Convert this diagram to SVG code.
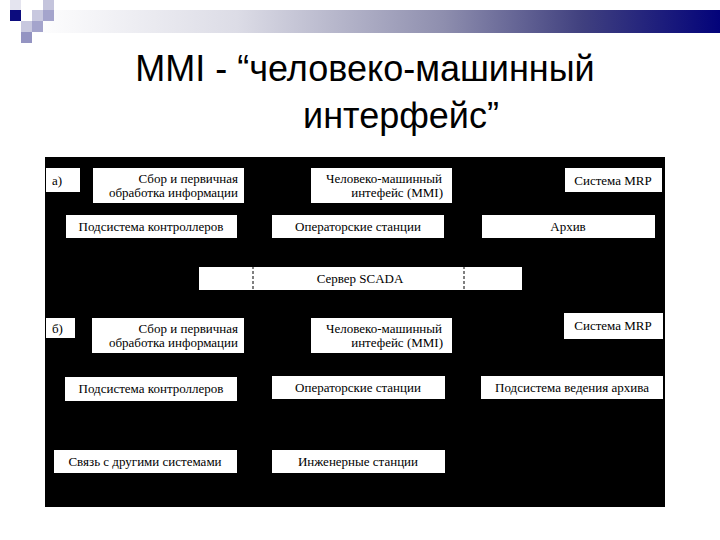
<svg xmlns="http://www.w3.org/2000/svg" width="720" height="540" viewBox="0 0 720 540">
<defs>
<linearGradient id="bar" x1="0" y1="0" x2="1" y2="0">
<stop offset="0" stop-color="#ffffff"/>
<stop offset="0.3" stop-color="#dcdce6"/>
<stop offset="0.6" stop-color="#8e8eae"/>
<stop offset="0.8" stop-color="#40407f"/>
<stop offset="1" stop-color="#03037a"/>
</linearGradient>
<style>
.bx{fill:#ffffff}
.t{font-family:'Liberation Serif','DejaVu Serif',serif;font-size:13px;fill:#000}
.title{font-family:'Liberation Sans',Arial,sans-serif;font-size:36px;fill:#000;text-anchor:middle}
.dash{stroke:#000;stroke-width:1;stroke-dasharray:3,2;fill:none}
.tick{stroke:#000;stroke-width:1;fill:none}
</style>
</defs>
<rect width="720" height="540" fill="#ffffff"/>
<g id="header">
<rect x="30" y="10" width="690" height="23" fill="url(#bar)"/>
<rect x="10" y="0" width="11" height="10" fill="#e4e4ef"/>
<rect x="43" y="0" width="11" height="10" fill="#c4c4dc"/>
<rect x="10" y="10" width="11" height="11" fill="#0c0c7e"/>
<rect x="32" y="10" width="11" height="11" fill="#c8c8df"/>
<rect x="43" y="10" width="11" height="11" fill="#a4a4cc"/>
<rect x="21" y="21" width="11" height="11" fill="#c8c8df"/>
<rect x="32" y="21" width="11" height="11" fill="#a4a4cc"/>
<rect x="21" y="32" width="11" height="11" fill="#9494c2"/>
</g>
<g id="title">
<text class="title" x="365" y="81">MMI - “человеко-машинный</text>
<text class="title" x="401" y="128">интерфейс”</text>
</g>
<rect id="panel" x="45" y="157" width="620" height="350" fill="#000"/>
<g id="connectors">
<line class="dash" x1="253" y1="265" x2="253" y2="292"/>
<line class="dash" x1="464" y1="265" x2="464" y2="292"/>
<line class="tick" x1="266" y1="388" x2="272" y2="388"/>
<line class="tick" x1="266" y1="462" x2="272" y2="462"/>
<line class="tick" x1="476" y1="388" x2="481" y2="388"/>
</g>
<g id="label-a"><rect class="bx" x="46" y="168" width="34" height="24"/><text class="t" x="52" y="185">а)</text></g>
<g id="a-sbor"><rect class="bx" x="93" y="168" width="151" height="35"/><text class="t" x="238" y="183" text-anchor="end">Сбор и первичная</text><text class="t" x="238" y="197" text-anchor="end">обработка информации</text></g>
<g id="a-mmi"><rect class="bx" x="311" y="168" width="141" height="35"/><text class="t" x="442" y="183" text-anchor="end">Человеко-машинный</text><text class="t" x="443" y="197" text-anchor="end">интефейс (MMI)</text></g>
<g id="a-mrp"><rect class="bx" x="565" y="168" width="97" height="24"/><text class="t" x="613" y="185" text-anchor="middle">Система MRP</text></g>
<g id="a-ctrl"><rect class="bx" x="66" y="215" width="171" height="23"/><text class="t" x="151" y="231" text-anchor="middle">Подсистема контроллеров</text></g>
<g id="a-oper"><rect class="bx" x="272" y="215" width="172" height="23"/><text class="t" x="358" y="231" text-anchor="middle">Операторские станции</text></g>
<g id="a-arch"><rect class="bx" x="482" y="215" width="173" height="23"/><text class="t" x="568" y="231" text-anchor="middle">Архив</text></g>
<g id="a-scada"><rect class="bx" x="199" y="267" width="323" height="23"/><text class="t" x="360" y="283" text-anchor="middle">Сервер SCADA</text><line class="dash" x1="253" y1="266" x2="253" y2="291"/><line class="dash" x1="464" y1="266" x2="464" y2="291"/></g>
<g id="label-b"><rect class="bx" x="46" y="318" width="29" height="20"/><text class="t" x="52" y="333">б)</text></g>
<g id="b-sbor"><rect class="bx" x="92" y="318" width="152" height="35"/><text class="t" x="238" y="333" text-anchor="end">Сбор и первичная</text><text class="t" x="238" y="347" text-anchor="end">обработка информации</text></g>
<g id="b-mmi"><rect class="bx" x="311" y="318" width="141" height="35"/><text class="t" x="442" y="333" text-anchor="end">Человеко-машинный</text><text class="t" x="443" y="347" text-anchor="end">интефейс (MMI)</text></g>
<g id="b-mrp"><rect class="bx" x="564" y="313" width="99" height="26"/><text class="t" x="613" y="330" text-anchor="middle">Система MRP</text></g>
<g id="b-ctrl"><rect class="bx" x="65" y="377" width="172" height="24"/><text class="t" x="151" y="393" text-anchor="middle">Подсистема контроллеров</text></g>
<g id="b-oper"><rect class="bx" x="272" y="376" width="173" height="23"/><text class="t" x="358" y="392" text-anchor="middle">Операторские станции</text></g>
<g id="b-arch"><rect class="bx" x="481" y="376" width="182" height="23"/><text class="t" x="572" y="392" text-anchor="middle">Подсистема ведения архива</text></g>
<g id="b-link"><rect class="bx" x="54" y="450" width="183" height="23"/><text class="t" x="145" y="466" text-anchor="middle">Связь с другими системами</text></g>
<g id="b-eng"><rect class="bx" x="272" y="450" width="173" height="23"/><text class="t" x="358" y="466" text-anchor="middle">Инженерные станции</text></g>
</svg>
